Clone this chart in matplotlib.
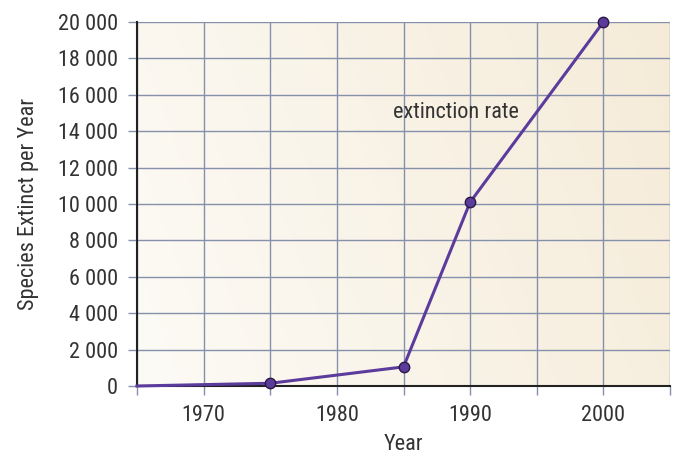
import matplotlib
matplotlib.use('Agg')
import matplotlib.pyplot as plt
from matplotlib.colors import LinearSegmentedColormap
from matplotlib.ticker import FuncFormatter, MultipleLocator
import numpy as np

# data
years = [1965, 1975, 1985, 1990, 2000]
extinct = [0, 150, 1050, 10100, 20000]
marker_years = years[1:]
marker_vals = extinct[1:]
label_ticks = [1970, 1980, 1990, 2000]

plt.rcParams['font.family'] = ['Roboto Condensed', 'DejaVu Sans']

grid_col = '#8590ab'
line_col = '#5b3b9b'
text_col = '#333333'
fs = 16

fig = plt.figure(figsize=(6.73, 4.54), dpi=100)
ax = fig.add_axes([137 / 673, 1 - 386 / 454, 533 / 673, 364 / 454])

# soft cream gradient background, lighter at the bottom left
cmap = LinearSegmentedColormap.from_list('bg', ['#fdfbf6', '#f5ebd8'])
gx, gy = np.meshgrid(np.linspace(0, 1, 200), np.linspace(0, 1, 200))
grad = 0.8 * gx + 0.2 * gy
ax.imshow(grad, extent=[0, 1, 0, 1], transform=ax.transAxes, cmap=cmap,
          aspect='auto', zorder=0, origin='lower')

ax.set_xlim(1965, 2005)
ax.set_ylim(0, 20000)
ax.xaxis.set_major_locator(MultipleLocator(5))
ax.yaxis.set_major_locator(MultipleLocator(2000))
ax.xaxis.set_major_formatter(FuncFormatter(lambda v, p: f'{int(v)}' if int(v) in label_ticks else ''))
ax.yaxis.set_major_formatter(FuncFormatter(lambda v, p: f'{int(v):,}'.replace(',', ' ')))

ax.grid(True, color=grid_col, linewidth=1.0, zorder=1)
ax.set_axisbelow(True)
for side in ['top', 'right']:
    ax.spines[side].set_visible(False)
for side in ['left', 'bottom']:
    ax.spines[side].set_color('#222222')
    ax.spines[side].set_linewidth(1.5)
    ax.spines[side].set_zorder(3)

ax.tick_params(axis='both', colors=grid_col, length=6.5, width=1.0, labelcolor=text_col,
               labelsize=fs, pad=7)

ax.plot(years, extinct, color=line_col, linewidth=2.2, zorder=4, clip_on=False)
ax.plot(marker_years, marker_vals, linestyle='none', marker='o', markersize=7.5,
        markerfacecolor=line_col, markeredgecolor='#2a1a44', markeredgewidth=1.0,
        zorder=5, clip_on=False)

ax.text(1984.2, 15000, 'extinction rate', fontsize=fs, color=text_col,
        ha='left', va='center', zorder=6)

ax.set_xlabel('Year', fontsize=fs, color=text_col, labelpad=6)
ax.set_ylabel('Species Extinct per Year', fontsize=fs, color=text_col, labelpad=14)

fig.savefig('out.png', dpi=100)
